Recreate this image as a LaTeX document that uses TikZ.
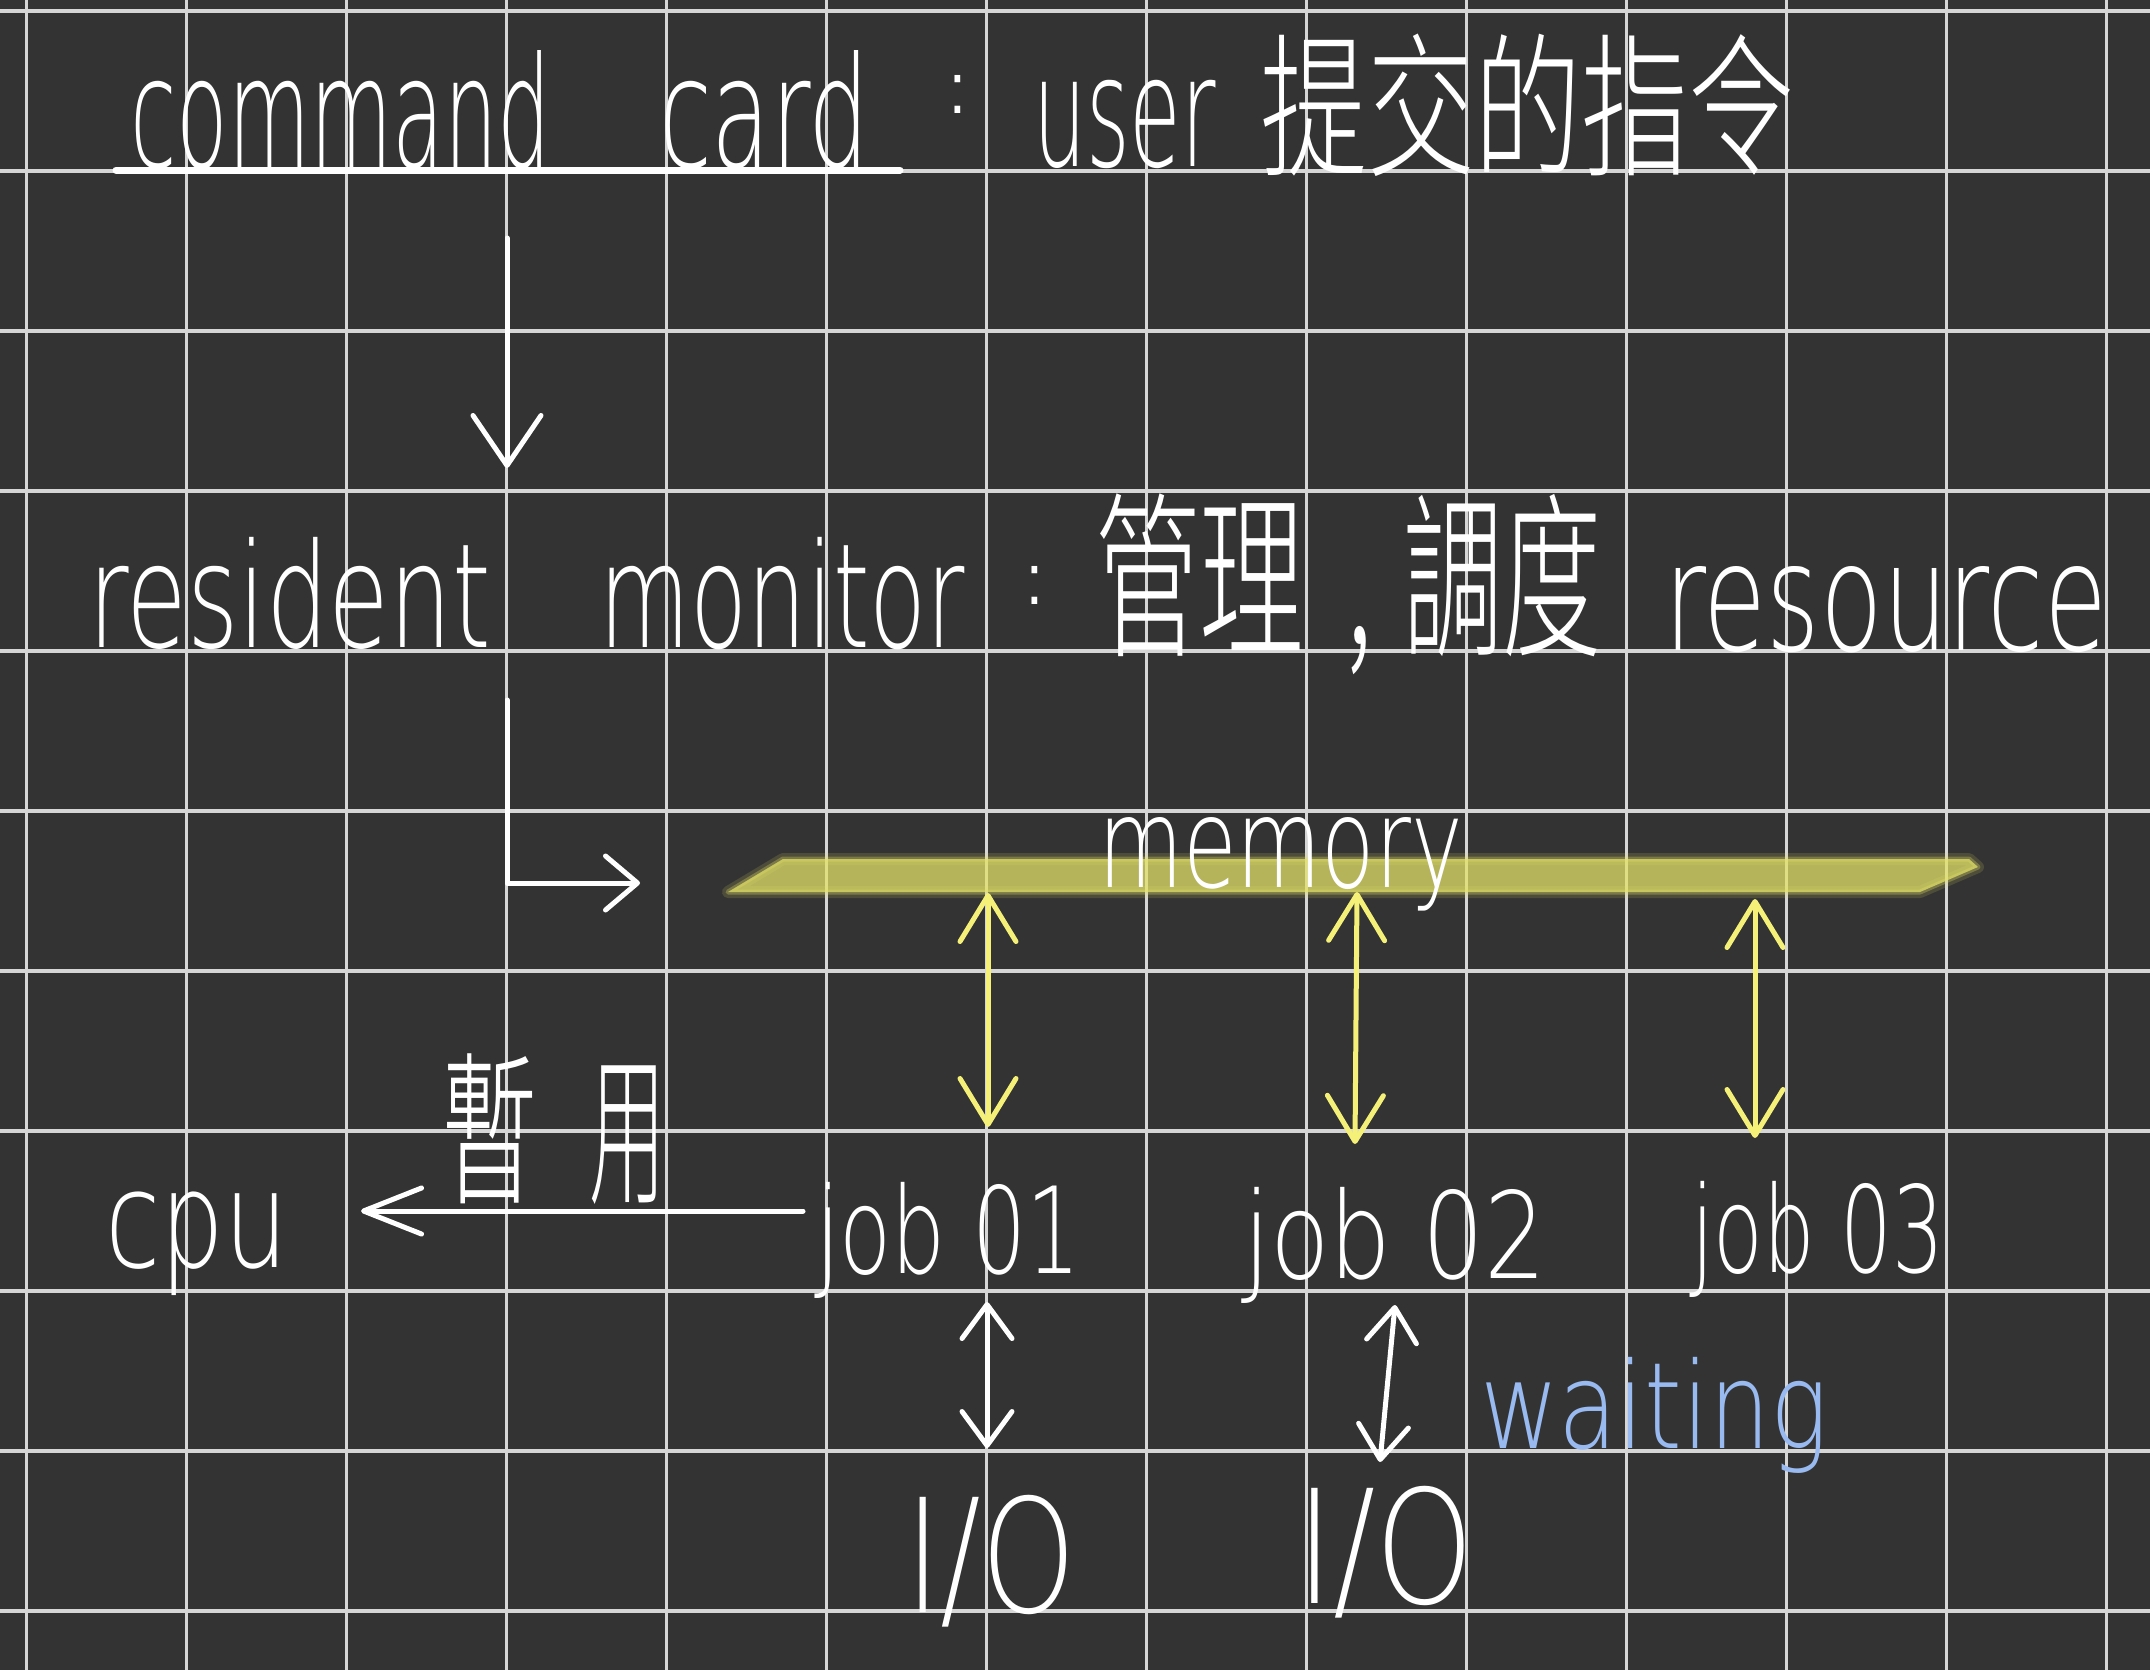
\documentclass[tikz,border=0pt]{standalone}
\usepackage{fontspec}
\usepackage{graphicx}
\IfFontExistsTF{DejaVu Sans ExtraLight}
  {\setmainfont{DejaVu Sans ExtraLight}}
  {\IfFontExistsTF{DejaVuSans-ExtraLight.ttf}
    {\setmainfont{DejaVuSans-ExtraLight.ttf}}
    {\setmainfont{Liberation Sans}}}
\IfFontExistsTF{Noto Sans CJK TC Light}
  {\newfontfamily\cjk{Noto Sans CJK TC Light}}
  {\IfFontExistsTF{Noto Sans CJK TC DemiLight}
    {\newfontfamily\cjk{Noto Sans CJK TC DemiLight}}
    {\newfontfamily\cjk{Noto Sans CJK TC}}}
\newfontfamily\colonfam{Liberation Sans}
\usetikzlibrary{arrows.meta}
\definecolor{bg}{RGB}{51,51,51}
\definecolor{gridc}{RGB}{214,214,214}
\definecolor{hl}{RGB}{228,226,104}
\definecolor{yarrow}{RGB}{245,241,120}
\definecolor{blueink}{RGB}{152,186,240}
% font size, target width (px), text
\newcommand\hwb[3]{\resizebox{#2pt}{\height}{\fontsize{#1pt}{#1pt}\selectfont #3}}
\newcommand\hwcolon{\colonfam\scalebox{1}[1.2]{\fontsize{60pt}{60pt}\selectfont :}}
\begin{document}
\begin{tikzpicture}[x=1pt,y=-1pt,
  lab/.style={inner sep=0pt, outer sep=0pt, text=white, anchor=base west},
  wline/.style={draw=white, line width=5pt, line cap=round, line join=round},
  yarr/.style={draw=yarrow, line width=5pt, line cap=round,
    arrows={Straight Barb[round,length=46pt,width=56pt]-Straight Barb[round,length=46pt,width=56pt]}},
  warr/.style={wline,
    arrows={Straight Barb[round,length=34pt,width=50pt]-Straight Barb[round,length=34pt,width=50pt]}}
]
\useasboundingbox (0,0) rectangle (2150,1670);
\fill[bg] (0,0) rectangle (2150,1670);
% grid
\foreach \i in {0,...,13}
  \draw[gridc, line width=2.8pt] ({26.7+160*\i},0) -- ({26.7+160*\i},1670);
\foreach \j in {0,...,10}
  \draw[gridc, line width=3.6pt] (0,{11+160*\j}) -- (2150,{11+160*\j});

% ---- row 1
\node[lab] (cmd) at (130,167) {\hwb{154}{421}{command}\hspace{108pt}\hwb{154}{211}{card}};
\draw[wline, line width=7pt] (116,170) -- (900,170);
\node[lab] (colon1) at (949,113) {\hwcolon};
\node[lab] (user) at (1033,166) {\hwb{154}{183}{user}};
\node[lab] (cmdzh) at (1260,164) {\cjk\hwb{155}{536}{提交的指令}};

% arrow command card -> resident monitor
\coordinate (a1s) at (507,238);
\coordinate (a1e) at (507,468);
\draw[wline, arrows={-Straight Barb[round,length=50pt,width=68pt]}] (a1s) -- (a1e);

% ---- row 2
\node[lab] (res) at (88,647) {\hwb{145}{403}{resident}\hspace{109pt}\hwb{145}{365}{monitor}};
\node[lab] (colon2) at (1026,604) {\hwcolon};
\node[lab] (mgr) at (1095,643) {\cjk\hwb{178}{209}{管理}\hspace{42pt}\hwb{178}{26}{,}\hspace{31pt}\hwb{178}{198}{調度}};
\node[lab] (resrc) at (1664,650) {\hwb{150}{443}{resource}};

% L arrow to memory
\coordinate (a2s) at (507,700);
\coordinate (a2c) at (507,883);
\coordinate (a2e) at (640,883);
\draw[wline, arrows={-Straight Barb[round,length=32pt,width=54pt]}] (a2s) -- (a2c) -- (a2e);

% memory bar (highlighter)
\path[draw=hl, draw opacity=0.15, line width=12pt, line join=round]
  (783,859) -- (1969,859) -- (1978,867) -- (1920,892) -- (728,892) -- cycle;
\path[draw=hl, draw opacity=0.3, line width=5pt, line join=round]
  (783,859) -- (1969,859) -- (1978,867) -- (1920,892) -- (728,892) -- cycle;
\path[fill=hl, fill opacity=0.74]
  (783,859) -- (1969,859) -- (1978,867) -- (1920,892) -- (728,892) -- cycle;
\node[lab] (mem) at (1098,887) {\hwb{125}{365}{memory}};

% yellow double arrows memory <-> jobs
\coordinate (y1t) at (988,893);  \coordinate (y1b) at (988,1127);
\coordinate (y2t) at (1357,892); \coordinate (y2b) at (1355,1144);
\coordinate (y3t) at (1755,899); \coordinate (y3b) at (1755,1138);
\draw[yarr] (y1t) -- (y1b);
\draw[yarr] (y2t) -- (y2b);
\draw[yarr] (y3t) -- (y3b);

% ---- row 3
\node[lab] (cpu) at (105,1267) {\hwb{135}{183}{cpu}};
\node[lab] (occ) at (442,1191) {\cjk\hwb{165}{95}{暫}\hspace{52pt}\hwb{165}{76}{用}};
\node[lab] (job1) at (816,1273) {\hwb{120}{265}{job 01}};
\node[lab] (job2) at (1243,1278) {\hwb{120}{303}{job 02}};
\node[lab] (job3) at (1691,1272) {\hwb{120}{253}{job 03}};

% job01 -> cpu
\coordinate (cas) at (803,1211);
\coordinate (cae) at (361,1211);
\draw[wline, arrows={-Straight Barb[round,length=58pt,width=46pt]}] (cas) -- (cae);

% jobs <-> I/O
\coordinate (w1t) at (987,1302);  \coordinate (w1b) at (987,1448);
\coordinate (w2t) at (1395,1305); \coordinate (w2b) at (1380,1462);
\draw[warr] (w1t) -- (w1b);
\draw[warr] (w2t) -- (w2b);

\node[lab] (io1) at (905,1612) {\hwb{158}{171}{I/O}};
\node[lab] (io2) at (1296,1603) {\hwb{158}{178}{I/O}};
\node[lab, text=blueink] (wait) at (1480,1448) {\hwb{120}{348}{waiting}};
\end{tikzpicture}
\end{document}
